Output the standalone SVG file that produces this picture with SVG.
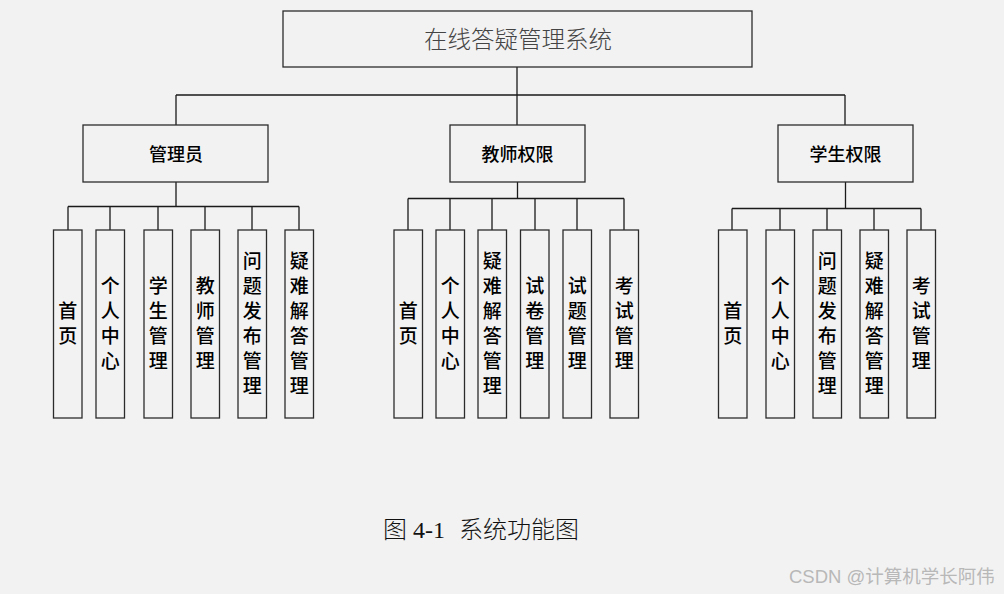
<svg xmlns="http://www.w3.org/2000/svg" width="1004" height="594" viewBox="0 0 1004 594">
<style>
.box{fill:#f2f2f2;stroke:#2b2b2b;stroke-width:1.3}
.ln{fill:none;stroke:#1a1a1a;stroke-width:1.3}
.t1{font-family:"Noto Sans CJK SC",sans-serif;font-size:23.5px;fill:#444;font-weight:300;text-anchor:middle}
.t2{font-family:"Noto Sans CJK SC",sans-serif;font-size:18px;fill:#000;font-weight:500;text-anchor:middle}
.lf{font-family:"Noto Sans CJK SC",sans-serif;font-size:19px;fill:#000;font-weight:500;text-anchor:middle}
.cap{font-family:"Liberation Serif","Noto Sans CJK SC",serif;font-size:24px;fill:#111;font-weight:300}
.wm{font-family:"Liberation Sans","Noto Sans CJK SC",sans-serif;font-size:18.5px;fill:#b8b8b8}
</style>
<rect width="1004" height="594" fill="#f2f2f2"/>
<g id="connectors">
<path class="ln" d="M517,67V95M176,95H845M176,95V125M517,95V125M845,95V125"/>
<path class="ln" d="M176,182V206.5M68,206.5H299M68,206.5V230M110,206.5V230M158,206.5V230M205,206.5V230M252,206.5V230M299,206.5V230"/>
<path class="ln" d="M517.5,182V198.5M408,198.5H624M408,198.5V230M450,198.5V230M492,198.5V230M535,198.5V230M577,198.5V230M624,198.5V230"/>
<path class="ln" d="M845.5,182V208.5M732,208.5H921M732,208.5V230M780,208.5V230M827,208.5V230M874,208.5V230M921,208.5V230"/>
</g>
<g id="root"><rect class="box" x="283" y="11" width="469" height="56"/><text class="t1" x="518" y="48">在线答疑管理系统</text></g>
<g id="admin"><rect class="box" x="83" y="125" width="185" height="57"/><text class="t2" x="176" y="161">管理员</text></g>
<g id="teacher"><rect class="box" x="450" y="125" width="135" height="57"/><text class="t2" x="517.5" y="161">教师权限</text></g>
<g id="student"><rect class="box" x="778" y="125" width="135" height="57"/><text class="t2" x="845.5" y="161">学生权限</text></g>

<g id="a1"><rect class="box" x="53.5" y="230" width="28.5" height="188"/><text class="lf"><tspan x="67.8" y="318">首</tspan><tspan x="67.8" y="343">页</tspan></text></g>
<g id="a2"><rect class="box" x="96" y="230" width="28.5" height="188"/><text class="lf"><tspan x="110.2" y="293">个</tspan><tspan x="110.2" y="318">人</tspan><tspan x="110.2" y="343">中</tspan><tspan x="110.2" y="368">心</tspan></text></g>
<g id="a3"><rect class="box" x="144" y="230" width="28.5" height="188"/><text class="lf"><tspan x="158.2" y="293">学</tspan><tspan x="158.2" y="318">生</tspan><tspan x="158.2" y="343">管</tspan><tspan x="158.2" y="368">理</tspan></text></g>
<g id="a4"><rect class="box" x="191" y="230" width="28.5" height="188"/><text class="lf"><tspan x="205.2" y="293">教</tspan><tspan x="205.2" y="318">师</tspan><tspan x="205.2" y="343">管</tspan><tspan x="205.2" y="368">理</tspan></text></g>
<g id="a5"><rect class="box" x="238" y="230" width="28.5" height="188"/><text class="lf"><tspan x="252.2" y="268">问</tspan><tspan x="252.2" y="293">题</tspan><tspan x="252.2" y="318">发</tspan><tspan x="252.2" y="343">布</tspan><tspan x="252.2" y="368">管</tspan><tspan x="252.2" y="393">理</tspan></text></g>
<g id="a6"><rect class="box" x="285" y="230" width="28.5" height="188"/><text class="lf"><tspan x="299.2" y="268">疑</tspan><tspan x="299.2" y="293">难</tspan><tspan x="299.2" y="318">解</tspan><tspan x="299.2" y="343">答</tspan><tspan x="299.2" y="368">管</tspan><tspan x="299.2" y="393">理</tspan></text></g>

<g id="t1"><rect class="box" x="394" y="230" width="28.5" height="188"/><text class="lf"><tspan x="408.2" y="318">首</tspan><tspan x="408.2" y="343">页</tspan></text></g>
<g id="t2"><rect class="box" x="436" y="230" width="28.5" height="188"/><text class="lf"><tspan x="450.2" y="293">个</tspan><tspan x="450.2" y="318">人</tspan><tspan x="450.2" y="343">中</tspan><tspan x="450.2" y="368">心</tspan></text></g>
<g id="t3"><rect class="box" x="478" y="230" width="28.5" height="188"/><text class="lf"><tspan x="492.2" y="268">疑</tspan><tspan x="492.2" y="293">难</tspan><tspan x="492.2" y="318">解</tspan><tspan x="492.2" y="343">答</tspan><tspan x="492.2" y="368">管</tspan><tspan x="492.2" y="393">理</tspan></text></g>
<g id="t4"><rect class="box" x="520.5" y="230" width="28.5" height="188"/><text class="lf"><tspan x="534.7" y="293">试</tspan><tspan x="534.7" y="318">卷</tspan><tspan x="534.7" y="343">管</tspan><tspan x="534.7" y="368">理</tspan></text></g>
<g id="t5"><rect class="box" x="563" y="230" width="28.5" height="188"/><text class="lf"><tspan x="577.2" y="293">试</tspan><tspan x="577.2" y="318">题</tspan><tspan x="577.2" y="343">管</tspan><tspan x="577.2" y="368">理</tspan></text></g>
<g id="t6"><rect class="box" x="610" y="230" width="28.5" height="188"/><text class="lf"><tspan x="624.2" y="293">考</tspan><tspan x="624.2" y="318">试</tspan><tspan x="624.2" y="343">管</tspan><tspan x="624.2" y="368">理</tspan></text></g>

<g id="s1"><rect class="box" x="718.5" y="230" width="28.5" height="188"/><text class="lf"><tspan x="732.7" y="318">首</tspan><tspan x="732.7" y="343">页</tspan></text></g>
<g id="s2"><rect class="box" x="766" y="230" width="28.5" height="188"/><text class="lf"><tspan x="780.2" y="293">个</tspan><tspan x="780.2" y="318">人</tspan><tspan x="780.2" y="343">中</tspan><tspan x="780.2" y="368">心</tspan></text></g>
<g id="s3"><rect class="box" x="813" y="230" width="28.5" height="188"/><text class="lf"><tspan x="827.2" y="268">问</tspan><tspan x="827.2" y="293">题</tspan><tspan x="827.2" y="318">发</tspan><tspan x="827.2" y="343">布</tspan><tspan x="827.2" y="368">管</tspan><tspan x="827.2" y="393">理</tspan></text></g>
<g id="s4"><rect class="box" x="860" y="230" width="28.5" height="188"/><text class="lf"><tspan x="874.2" y="268">疑</tspan><tspan x="874.2" y="293">难</tspan><tspan x="874.2" y="318">解</tspan><tspan x="874.2" y="343">答</tspan><tspan x="874.2" y="368">管</tspan><tspan x="874.2" y="393">理</tspan></text></g>
<g id="s5"><rect class="box" x="907" y="230" width="28.5" height="188"/><text class="lf"><tspan x="921.2" y="293">考</tspan><tspan x="921.2" y="318">试</tspan><tspan x="921.2" y="343">管</tspan><tspan x="921.2" y="368">理</tspan></text></g>

<text class="cap" y="538"><tspan x="383">图 4-1</tspan><tspan x="459">系统功能图</tspan></text>
<text class="wm" x="789" y="583">CSDN @计算机学长阿伟</text>
</svg>
